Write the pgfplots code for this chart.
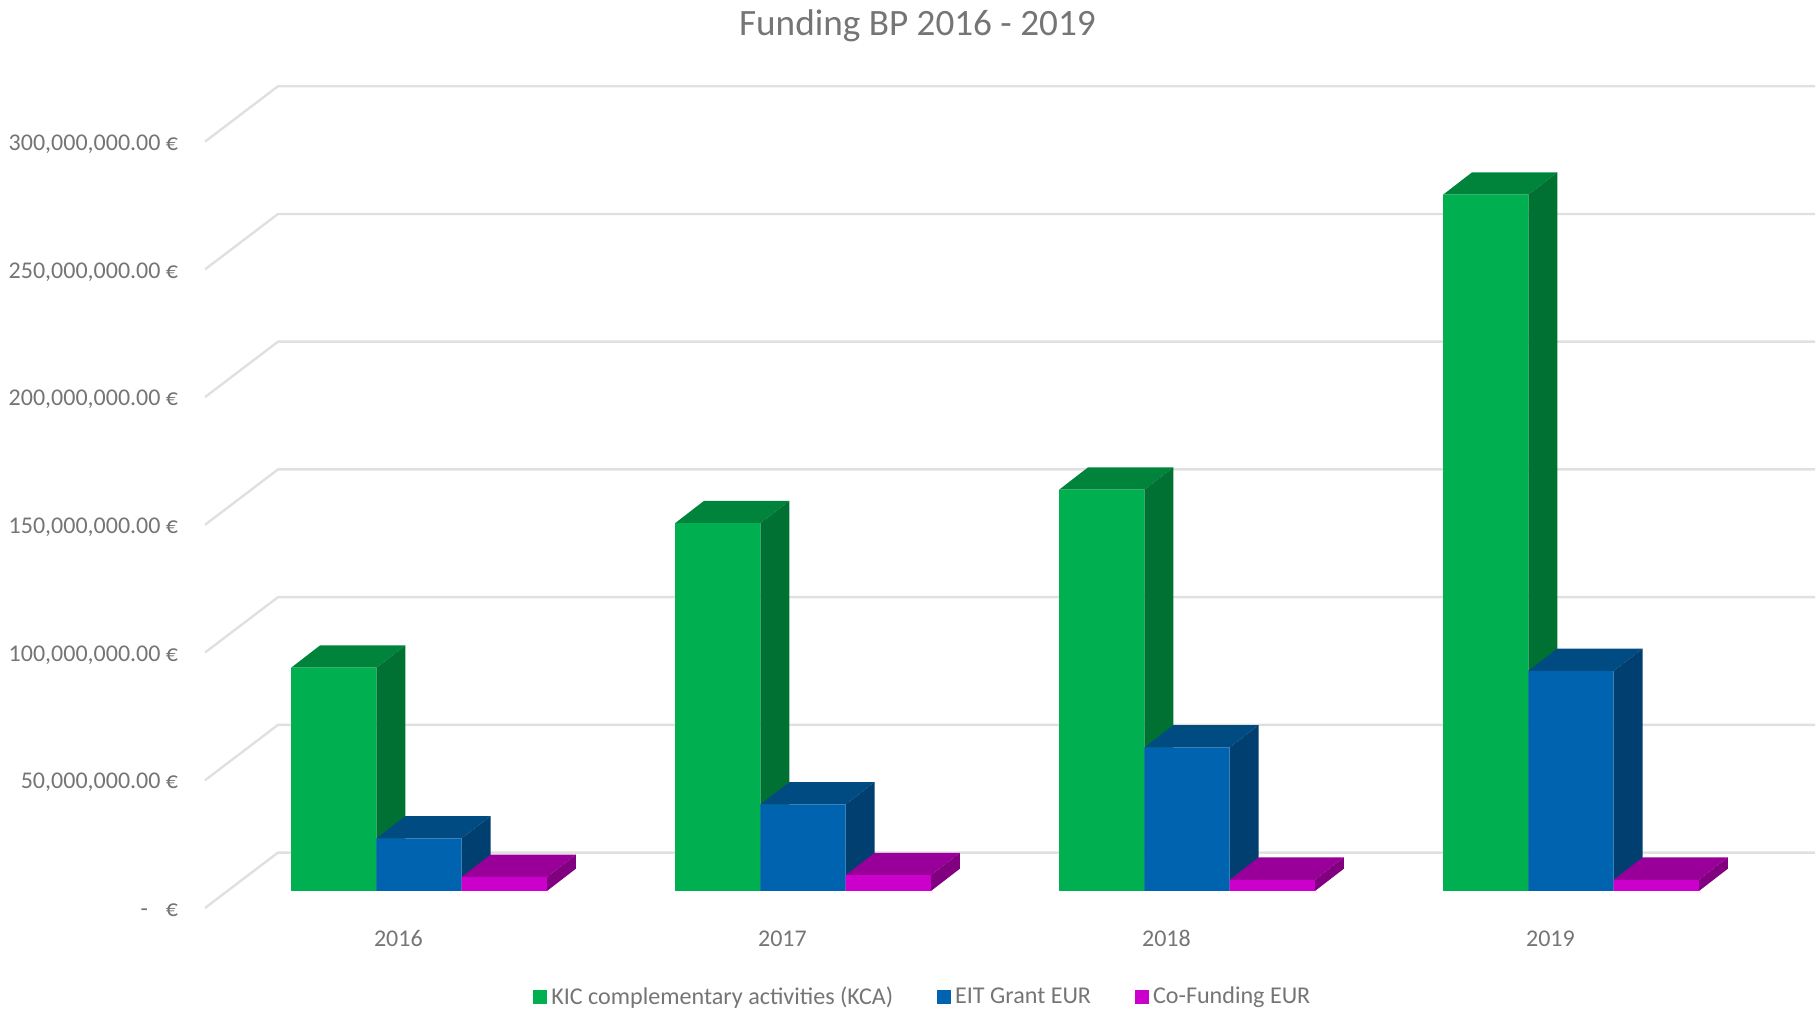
\documentclass[border=0pt]{standalone}
\usepackage{pgfplots}
\pgfplotsset{compat=1.18}
\usepackage{fontspec}
\setmainfont{Carlito}
\definecolor{gridc}{HTML}{E0E0E0}
\definecolor{txt}{HTML}{757575}
\definecolor{kca}{HTML}{00B050}
\definecolor{kcatop}{HTML}{00843C}
\definecolor{kcaside}{HTML}{007033}
\definecolor{eit}{HTML}{0063AF}
\definecolor{eittop}{HTML}{004C82}
\definecolor{eitside}{HTML}{003F6F}
\definecolor{cof}{HTML}{CC00CC}
\definecolor{coftop}{HTML}{990099}
\definecolor{cofside}{HTML}{800080}

% depth faces of one bar: left edge, value in millions, top colour, side colour
\newcommand\prism[4]{%
  \pgfmathsetmacro\xb{#1+0.2221}%
  \pgfmathsetmacro\xc{#1+0.0753}%
  \pgfmathsetmacro\xd{#1+0.2221+0.0753}%
  \pgfmathsetmacro\vb{#2+8.73}%
  \edef\temp{\noexpand\addplot[fill=#3,draw=none,forget plot] coordinates {(#1,#2e6) (\xb,#2e6) (\xd,\vb e6) (\xc,\vb e6) (#1,#2e6)};
    \noexpand\addplot[fill=#4,draw=none,forget plot] coordinates {(\xb,0) (\xd,8.73e6) (\xd,\vb e6) (\xb,#2e6) (\xb,0)};}%
  \temp}

\begin{document}
\begin{tikzpicture}
\useasboundingbox (0pt,0pt) rectangle (910pt,504.5pt);
\pgfplotsset{
  every axis/.append style={
    at={(102.5pt,50.5pt)}, anchor=south west,
    scale only axis, width=805pt, height=411pt,
    clip=false, axis line style={draw=none}, major tick length=0pt,
    tick label style={text=txt, font=\fontsize{12}{14}\selectfont},
  },
}
% back wall and grid
\begin{axis}[
    xmin=205, xmax=1815,
    ymin=0, ymax=321.8e6,
    xtick=\empty,
    ytick={0,50e6,100e6,150e6,200e6,250e6,300e6},
    yticklabels={-\hspace{0.75em}€,{50,000,000.00 €},{100,000,000.00 €},{150,000,000.00 €},{200,000,000.00 €},{250,000,000.00 €},{300,000,000.00 €}},
    yticklabel style={anchor=east, inner sep=0pt, xshift=-13.25pt, yshift=-1.2pt},
    scaled y ticks=false,
]
\addplot[gridc,line width=1.2pt] coordinates {(205,0) (278,21.7e6) (1815,21.7e6)};
\addplot[gridc,line width=1.2pt] coordinates {(205,50e6) (278,71.7e6) (1815,71.7e6)};
\addplot[gridc,line width=1.2pt] coordinates {(205,100e6) (278,121.7e6) (1815,121.7e6)};
\addplot[gridc,line width=1.2pt] coordinates {(205,150e6) (278,171.7e6) (1815,171.7e6)};
\addplot[gridc,line width=1.2pt] coordinates {(205,200e6) (278,221.7e6) (1815,221.7e6)};
\addplot[gridc,line width=1.2pt] coordinates {(205,250e6) (278,271.7e6) (1815,271.7e6)};
\addplot[gridc,line width=1.2pt] coordinates {(205,300e6) (278,321.7e6) (1815,321.7e6)};
\end{axis}
% bars, on the front plane whose zero lies above the floor's front edge
\begin{axis}[
    xmin=-0.5573, xmax=3.6354,
    ymin=-6.66e6, ymax=315.14e6,
    ytick=\empty,
    xtick={0,1,2,3},
    xticklabels={2016,2017,2018,2019},
    xticklabel style={xshift=-10.3pt, yshift=-7.8pt, text height=8pt, text depth=0pt},
    title={Funding BP 2016 - 2019},
    title style={at={(axis description cs:0.4425,1.0766)}, anchor=center, yshift=-7.3pt, text=txt, font=\fontsize{18.6}{22}\selectfont},
    legend columns=3,
    legend style={
      at={(axis description cs:0.4465,-0.108)}, anchor=center, draw=none, fill=none,
      font=\fontsize{12.05}{14}\selectfont, text=txt, inner sep=0pt,
      /tikz/every even column/.append style={column sep=20pt},
    },
    legend image code/.code={\fill[#1] (0pt,-3.5pt) rectangle (7pt,3.5pt);},
]
\prism{-0.3331}{87.4}{kcatop}{kcaside}
\prism{0.6669}{144.0}{kcatop}{kcaside}
\prism{1.6669}{157.1}{kcatop}{kcaside}
\prism{2.6669}{272.6}{kcatop}{kcaside}
\addplot[ybar,bar width=42.65pt,bar shift=-42.65pt,fill=kca,draw=none] coordinates {(0,87400000) (1,144000000) (2,157100000) (3,272600000)};
\addlegendentry{KIC complementary activities (KCA)}
\prism{-0.1110}{20.6}{eittop}{eitside}
\prism{0.8890}{33.9}{eittop}{eitside}
\prism{1.8890}{56.2}{eittop}{eitside}
\prism{2.8890}{86.2}{eittop}{eitside}
\addplot[ybar,bar width=42.65pt,bar shift=0pt,fill=eit,draw=none] coordinates {(0,20600000) (1,33900000) (2,56200000) (3,86200000)};
\addlegendentry{EIT Grant EUR}
\prism{0.1111}{5.5}{coftop}{cofside}
\prism{1.1111}{6.2}{coftop}{cofside}
\prism{2.1111}{4.4}{coftop}{cofside}
\prism{3.1111}{4.4}{coftop}{cofside}
\addplot[ybar,bar width=42.65pt,bar shift=42.65pt,fill=cof,draw=none] coordinates {(0,5500000) (1,6200000) (2,4400000) (3,4400000)};
\addlegendentry{Co-Funding EUR}
\end{axis}
\end{tikzpicture}
\end{document}
